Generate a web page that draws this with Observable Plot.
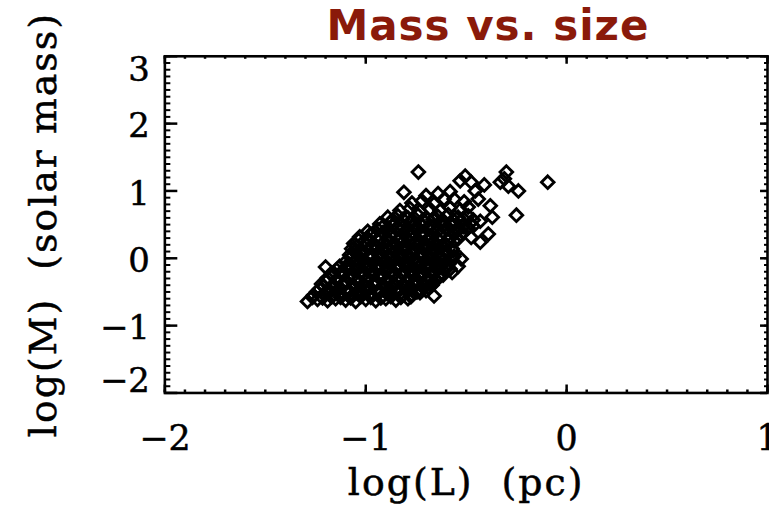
<!DOCTYPE html>
<html><head><meta charset="utf-8">
<script src="https://cdn.jsdelivr.net/npm/d3@7"></script>
<script src="https://cdn.jsdelivr.net/npm/@observablehq/plot@0.6"></script>
<style>
html,body{margin:0;padding:0;background:#fff;overflow:hidden}
#wrap{position:relative;width:769px;height:509px;overflow:hidden;background:#fff}
#title{position:absolute;left:0;width:976px;top:5px;text-align:center;font-family:"DejaVu Sans";font-weight:700;font-size:42px;line-height:42px;color:#8a1a0a;letter-spacing:1px;white-space:nowrap;z-index:2}
#chart{position:absolute;left:0;top:0}
#chart text{stroke:#000;stroke-width:0.5px}
</style></head>
<body>
<div id="wrap"><div id="title">Mass vs. size</div><div id="chart"></div></div>
<script>
const titleText = "Mass vs. size";
const xLabel = "log(L)  (pc)";
const yLabel = "log(M)  (solar mass)";
const xTickValues = [-2, -1, 0, 1];
const yTickValues = [-2, -1, 0, 1, 2, 3];

// log(L) in pc
const logL = [
 -1.29,-1.24,-1.19,-1.15,-1.10,-1.05,-1.00,-0.95,-0.90,-0.85,-0.79,
 -1.26,-1.21,-1.17,-1.12,-1.07,-1.02,-0.97,-0.92,-0.87,-0.82,-0.77,-0.73,-0.66,
 -1.23,-1.18,-1.13,-1.08,-1.03,-0.98,-0.93,-0.88,-0.83,-0.78,-0.73,-0.69,
 -1.22,-1.16,-1.11,-1.06,-1.01,-0.96,-0.91,-0.86,-0.81,-0.76,-0.71,-0.66,
 -1.19,-1.14,-1.09,-1.04,-0.99,-0.94,-0.89,-0.84,-0.79,-0.74,-0.69,-0.64,
 -1.17,-1.12,-1.07,-1.02,-0.97,-0.92,-0.87,-0.82,-0.77,-0.72,-0.67,-0.62,-0.57,
 -1.20,-1.13,-1.09,-1.04,-0.99,-0.94,-0.89,-0.84,-0.79,-0.74,-0.69,-0.64,-0.60,-0.58,-0.54,
 -1.10,-1.05,-1.00,-0.95,-0.90,-0.85,-0.80,-0.75,-0.70,-0.65,-0.61,-0.56,-0.525,
 -1.08,-1.03,-0.98,-0.93,-0.88,-0.83,-0.78,-0.73,-0.68,-0.63,-0.59,
 -1.07,-1.02,-0.97,-0.92,-0.87,-0.82,-0.77,-0.72,-0.67,-0.62,-0.57,
 -1.06,-1.01,-0.96,-0.91,-0.86,-0.81,-0.76,-0.71,-0.66,-0.61,-0.56,-0.43,-0.65,
 -1.03,-0.98,-0.93,-0.88,-0.83,-0.78,-0.73,-0.68,-0.63,-0.58,-0.53,-0.475,-0.39,
 -0.99,-0.94,-0.89,-0.84,-0.79,-0.74,-0.69,-0.64,-0.59,-0.54,-0.49,
 -0.93,-0.88,-0.83,-0.78,-0.73,-0.68,-0.63,-0.58,-0.53,-0.48,-0.43,
 -0.89,-0.84,-0.79,-0.74,-0.69,-0.64,-0.59,-0.54,-0.49,-0.37,-0.25,
 -0.83,-0.78,-0.73,-0.68,-0.63,-0.58,-0.53,-0.49,-0.38,
 -0.77,-0.72,-0.66,-0.61,-0.56,-0.51,-0.44,
 -0.81,-0.70,-0.64,-0.58,-0.455,-0.53,-0.475,-0.505,-0.41,-0.30,-0.33,-0.31,-0.29,-0.24,-0.094,-0.738,
 -1.265,-1.215,-1.17,-1.125,-1.075,-1.025,-0.975,-0.925,-0.875,-0.825,-0.775,
 -1.245,-1.195,-1.145,-1.095,-1.045,-0.995,-0.945,-0.895,-0.845,-0.795,-0.745,-0.70,
 -1.21,-1.16,-1.11,-1.055,-1.005,-0.955,-0.905,-0.855,-0.805,-0.755,-0.705,-0.67,
 -1.195,-1.145,-1.095,-1.045,-0.995,-0.945,-0.895,-0.845,-0.795,-0.745,-0.695,-0.65,
 -1.165,-1.115,-1.065,-1.015,-0.965,-0.915,-0.865,-0.815,-0.765,-0.715,-0.665,-0.615,
 -1.145,-1.095,-1.045,-0.995,-0.945,-0.895,-0.845,-0.795,-0.745,-0.695,-0.645,-0.60,
 -1.085,-1.035,-0.985,-0.935,-0.885,-0.835,-0.785,-0.735,-0.685,-0.635,-0.585,
 -1.075,-1.025,-0.975,-0.925,-0.875,-0.825,-0.775,-0.725,-0.675,-0.625,-0.575,
 -1.055,-1.005,-0.955,-0.905,-0.855,-0.805,-0.755,-0.705,-0.655,-0.605,-0.565,
 -1.045,-0.995,-0.945,-0.895,-0.845,-0.795,-0.745,-0.695,-0.645,-0.595,
 -1.035,-0.985,-0.935,-0.885,-0.835,-0.785,-0.735,-0.685,-0.635,-0.585,-0.54,
 -0.965,-0.915,-0.865,-0.815,-0.765,-0.715,-0.665,-0.615,-0.565,-0.515,
 -0.915,-0.865,-0.815,-0.765,-0.715,-0.665,-0.615,-0.565,-0.515,-0.465,
 -0.865,-0.815,-0.765,-0.715,-0.665,-0.615,-0.565,-0.515,-0.465
];
// log(M) in solar masses
const logM = [
 -0.64,-0.61,-0.63,-0.60,-0.62,-0.64,-0.61,-0.63,-0.60,-0.62,-0.60,
 -0.55,-0.53,-0.57,-0.54,-0.56,-0.52,-0.55,-0.57,-0.53,-0.56,-0.54,-0.51,-0.56,
 -0.46,-0.48,-0.45,-0.49,-0.46,-0.44,-0.48,-0.45,-0.47,-0.44,-0.46,-0.43,
 -0.38,-0.40,-0.37,-0.41,-0.38,-0.36,-0.40,-0.37,-0.39,-0.35,-0.38,-0.36,
 -0.29,-0.31,-0.28,-0.32,-0.29,-0.27,-0.31,-0.28,-0.30,-0.26,-0.29,-0.27,
 -0.22,-0.20,-0.23,-0.19,-0.21,-0.24,-0.20,-0.22,-0.18,-0.21,-0.19,-0.22,-0.21,
 -0.13,-0.12,-0.15,-0.11,-0.14,-0.10,-0.13,-0.15,-0.11,-0.13,-0.10,-0.14,-0.11,-0.16,-0.12,
 -0.05,-0.02,-0.06,-0.03,-0.05,-0.01,-0.04,-0.06,-0.02,-0.05,-0.02,0.03,-0.01,
 0.05,0.08,0.04,0.07,0.03,0.06,0.09,0.05,0.08,0.04,0.07,
 0.14,0.12,0.16,0.13,0.17,0.14,0.12,0.16,0.13,0.17,0.14,
 0.22,0.25,0.21,0.24,0.22,0.26,0.23,0.21,0.25,0.22,0.26,0.24,0.21,
 0.32,0.35,0.31,0.34,0.30,0.33,0.36,0.31,0.34,0.32,0.35,0.31,0.36,
 0.40,0.43,0.41,0.44,0.40,0.43,0.45,0.41,0.44,0.42,0.45,
 0.51,0.53,0.50,0.54,0.52,0.49,0.53,0.51,0.55,0.52,0.55,
 0.61,0.63,0.60,0.64,0.58,0.62,0.65,0.61,0.63,0.61,0.64,
 0.71,0.74,0.70,0.73,0.71,0.75,0.72,0.76,0.78,
 0.82,0.85,0.81,0.88,0.88,0.84,0.88,
 0.98,0.93,0.96,0.99,1.00,1.15,1.13,1.22,1.09,1.28,1.13,1.18,1.07,1.00,1.13,1.28,
 -0.58,-0.59,-0.57,-0.58,-0.59,-0.57,-0.58,-0.59,-0.57,-0.58,-0.57,
 -0.50,-0.51,-0.49,-0.50,-0.51,-0.49,-0.50,-0.52,-0.50,-0.49,-0.50,-0.48,
 -0.42,-0.43,-0.41,-0.42,-0.43,-0.41,-0.42,-0.40,-0.42,-0.41,-0.42,-0.40,
 -0.34,-0.33,-0.35,-0.34,-0.33,-0.35,-0.34,-0.32,-0.34,-0.33,-0.34,-0.32,
 -0.26,-0.25,-0.27,-0.26,-0.25,-0.27,-0.26,-0.24,-0.26,-0.25,-0.24,-0.25,
 -0.17,-0.16,-0.18,-0.17,-0.16,-0.18,-0.17,-0.15,-0.17,-0.16,-0.17,-0.16,
 -0.08,-0.07,-0.09,-0.08,-0.07,-0.09,-0.08,-0.06,-0.08,-0.07,-0.08,
 0.01,0.00,0.02,0.01,0.00,0.02,0.01,0.03,0.01,0.00,0.02,
 0.10,0.09,0.11,0.10,0.09,0.11,0.10,0.12,0.10,0.09,0.11,
 0.18,0.19,0.17,0.18,0.19,0.17,0.18,0.20,0.18,0.19,
 0.27,0.28,0.26,0.27,0.28,0.26,0.27,0.29,0.27,0.28,0.29,
 0.37,0.38,0.36,0.37,0.38,0.36,0.37,0.39,0.37,0.38,
 0.47,0.48,0.46,0.47,0.48,0.46,0.47,0.49,0.47,0.48,
 0.57,0.58,0.56,0.57,0.58,0.56,0.57,0.59,0.57
];

const points = logL.map((L, i) => ({L, M: logM[i]}));

const W = 772, H = 509, ML = 165, MR = 2, MT = 56, MB = 115;
const PW = W - ML - MR, PH = H - MT - MB;
const xMinor = d3.range(-20, 11).map(d => d / 10);
const yMinor = d3.range(-20, 31).map(d => d / 10);
const fmt = d => d < 0 ? "\u2212" + Math.abs(d) : String(d);
const yMid = yTickValues.filter(d => d > -2 && d < 3);

const chart = Plot.plot({
  width: W, height: H,
  marginLeft: ML, marginRight: MR, marginTop: MT, marginBottom: MB,
  style: {fontFamily: "DejaVu Serif", background: "white", color: "black"},
  x: {domain: [-2, 1], label: null},
  y: {domain: [-2, 3], label: null},
  marks: [
    Plot.tickY(yMinor, {y: d => d, insetRight: PW - 6, strokeWidth: 2}),
    Plot.tickY(yTickValues, {y: d => d, insetRight: PW - 13, strokeWidth: 2.5}),
    Plot.tickY(yMinor, {y: d => d, insetLeft: PW - 3, strokeWidth: 2}),
    Plot.tickY(yTickValues, {y: d => d, insetLeft: PW - 7, strokeWidth: 2.5}),
    Plot.tickX(xMinor, {x: d => d, insetTop: PH - 3, strokeWidth: 2.5}),
    Plot.tickX(xTickValues, {x: d => d, insetTop: PH - 8, strokeWidth: 2.5}),
    Plot.tickX(xMinor, {x: d => d, insetBottom: PH - 3, strokeWidth: 2.5}),
    Plot.tickX(xTickValues, {x: d => d, insetBottom: PH - 8, strokeWidth: 2.5}),
    Plot.dot(points, {x: "L", y: "M", symbol: "diamond2", r: 5.7, stroke: "black", strokeWidth: 2.9, fill: "none"}),
    Plot.frame({stroke: "black", strokeWidth: 2.6}),
    Plot.axisX(xTickValues, {tickSize: 0, tickPadding: 32, fontSize: 35, tickFormat: fmt, label: null}),
    Plot.axisY(yMid, {tickSize: 0, tickPadding: 15, fontSize: 34, tickFormat: fmt, label: null, dy: 3}),
    Plot.axisY([3], {tickSize: 0, tickPadding: 15, fontSize: 34, tickFormat: fmt, label: null, dy: 14}),
    Plot.axisY([-2], {tickSize: 0, tickPadding: 15, fontSize: 34, tickFormat: fmt, label: null, dy: -12}),
    Plot.text([xLabel], {text: d => d, frameAnchor: "bottom", lineAnchor: "bottom", dy: 102, fontSize: 38}),
    Plot.text([yLabel], {text: d => d, frameAnchor: "left", textAnchor: "middle", lineAnchor: "middle", dx: -121, rotate: -90, fontSize: 38})
  ]
});
chart.querySelectorAll("text").forEach(t => {
  if (t.textContent.startsWith("log")) t.style.letterSpacing = "2px";
});
document.getElementById("title").textContent = titleText;
document.getElementById("chart").appendChild(chart);
</script>
</body></html>
